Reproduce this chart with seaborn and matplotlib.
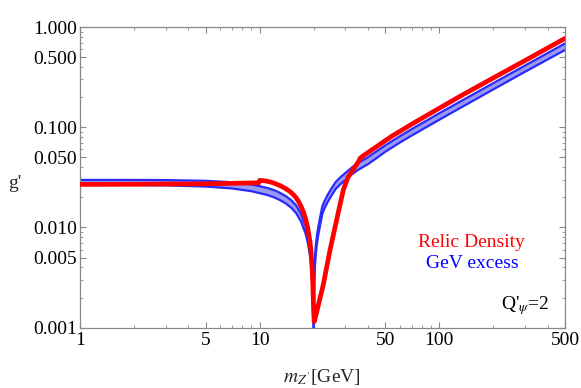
import matplotlib
matplotlib.use("Agg")
import matplotlib.pyplot as plt
import matplotlib.ticker as mticker
import seaborn as sns

# GeV excess band, branch below the resonance (m_Z' in GeV, g')
mass_below = [1, 2, 3, 5, 7, 9, 10, 11, 12, 13, 14, 15, 16, 17, 18, 18.5, 19, 19.5, 19.8, 19.95, 20.0]
excess_upper_below = [0.0298, 0.0298, 0.0297, 0.0292, 0.0283, 0.0268, 0.0258, 0.0248, 0.0236, 0.0221,
                      0.0205, 0.0187, 0.0165, 0.0136, 0.0103, 0.0084, 0.0064, 0.0045, 0.0028, 0.0016,
                      0.0005]
excess_lower_below = [0.0266, 0.0265, 0.0263, 0.0256, 0.0245, 0.0230, 0.0220, 0.0211, 0.0200, 0.0187,
                      0.0173, 0.0157, 0.0138, 0.0114, 0.0087, 0.0071, 0.0054, 0.0038, 0.0024, 0.0014,
                      0.0005]

# GeV excess band, branch above the resonance
mass_above = [20.0, 20.05, 20.15, 20.3, 20.5, 20.8, 21.2, 21.7, 22.3, 23, 24, 25, 26.5, 28, 30, 32.5,
              35, 40, 45, 50, 60, 70, 100, 150, 200, 300, 500]
excess_upper_above = [0.0005, 0.0020, 0.0035, 0.0050, 0.0065, 0.0082, 0.0102, 0.0127, 0.0162, 0.0185,
                      0.0215, 0.0243, 0.0285, 0.0315, 0.0350, 0.0395, 0.0435, 0.0502, 0.0580, 0.066,
                      0.081, 0.0955, 0.138, 0.207, 0.276, 0.413, 0.685]
excess_lower_above = [0.0005, 0.0016, 0.0029, 0.0041, 0.0053, 0.0068, 0.0085, 0.0106, 0.0136, 0.0157,
                      0.0182, 0.0206, 0.0243, 0.0268, 0.0298, 0.0338, 0.0372, 0.0428, 0.0496, 0.0570,
                      0.0700, 0.0825, 0.119, 0.179, 0.239, 0.358, 0.590]

# relic density curve
relic_mass = [1, 2, 4, 6, 8, 9.9, 10.0, 10.5, 11, 11.5, 12, 12.5, 13, 13.5, 14, 14.5, 15, 15.5, 16,
              16.5, 17, 17.5, 18, 18.5, 19, 19.3, 19.6, 19.8, 19.95, 20.1, 20.3, 22.6, 24.6, 26.8,
              29.2, 31.0, 32.5, 35.5, 36.2, 38, 40, 45, 50, 55, 60, 70, 85, 100, 130, 150, 200,
              300, 500]
relic_g = [0.0269, 0.0270, 0.0272, 0.0274, 0.0277, 0.0279, 0.0295, 0.0293, 0.0289, 0.0284, 0.0277,
           0.0269, 0.0261, 0.0252, 0.0243, 0.0233, 0.0222, 0.0210, 0.0196, 0.0180, 0.0162, 0.0143,
           0.0122, 0.0099, 0.0074, 0.0058, 0.0038, 0.0024, 0.0015, 0.00115, 0.00122, 0.0027,
           0.0059, 0.0119, 0.0237, 0.0316, 0.0361, 0.0455, 0.0490, 0.0525, 0.0558, 0.0645,
           0.0735, 0.0825, 0.0905, 0.107, 0.131, 0.155, 0.203, 0.234, 0.311, 0.463, 0.77]

x_ticks = [1, 5, 10, 50, 100, 500]
x_ticklabels = ["1", "5", "10", "50", "100", "500"]
y_ticks = [0.001, 0.005, 0.01, 0.05, 0.1, 0.5, 1.0]
y_ticklabels = ["0.001", "0.005", "0.010", "0.050", "0.100", "0.500", "1.000"]

sns.set_style("ticks")
plt.rcParams['font.family'] = ['Liberation Serif', 'DejaVu Serif']
plt.rcParams['mathtext.fontset'] = 'stix'

fig = plt.figure(figsize=(5.81, 3.88), dpi=100)
ax = fig.add_axes([80 / 581, 1 - 327.7 / 388, 485 / 581, 300.7 / 388])

blue = "#2a2aff"
band = "#9a9af2"
for m, up, lo in [(mass_below, excess_upper_below, excess_lower_below),
                  (mass_above, excess_upper_above, excess_lower_above)]:
    ax.fill_between(m, lo, up, color=band, lw=0, zorder=1)
    sns.lineplot(x=m, y=up, color=blue, lw=1.6, ax=ax, estimator=None, sort=False, zorder=2)
    sns.lineplot(x=m, y=lo, color=blue, lw=1.6, ax=ax, estimator=None, sort=False, zorder=2)

sns.lineplot(x=relic_mass, y=relic_g, color="#ff0000", lw=3.4, ax=ax, estimator=None,
             sort=False, zorder=3)

ax.set_xscale("log")
ax.set_yscale("log")
ax.set_xlim(1, 500)
ax.set_ylim(0.001, 1.0)

ax.xaxis.set_major_locator(mticker.FixedLocator(x_ticks))
ax.xaxis.set_major_formatter(mticker.FixedFormatter(x_ticklabels))
ax.xaxis.set_minor_locator(mticker.LogLocator(base=10, subs=range(2, 10)))
ax.xaxis.set_minor_formatter(mticker.NullFormatter())
ax.yaxis.set_major_locator(mticker.FixedLocator(y_ticks))
ax.yaxis.set_major_formatter(mticker.FixedFormatter(y_ticklabels))
ax.yaxis.set_minor_locator(mticker.LogLocator(base=10, subs=range(2, 10)))
ax.yaxis.set_minor_formatter(mticker.NullFormatter())

frame = "#888888"
for s in ax.spines.values():
    s.set_color(frame)
    s.set_linewidth(0.9)
ax.tick_params(which="both", direction="in", top=True, right=True, color=frame,
               labelsize=14, labelcolor="black")
ax.tick_params(which="major", length=4, width=0.8)
ax.tick_params(which="minor", length=2, width=0.6)
ax.tick_params(axis="x", pad=3)
ax.tick_params(axis="y", pad=2)

ax.set_xlabel("$m_{Z'}$[GeV]", fontsize=14)
ax.xaxis.set_label_coords(0.499, -0.13)
ax.set_ylabel("g'", fontsize=14, rotation=0, ha="center", va="center")
ax.yaxis.set_label_coords(-0.134, 0.481)

ax.text(0.808, 0.283, "Relic Density", color="#ff0000", fontsize=14, ha="center", va="center",
        transform=ax.transAxes)
ax.text(0.808, 0.214, "GeV excess", color="#0000ff", fontsize=14, ha="center", va="center",
        transform=ax.transAxes)
ax.text(0.969, 0.075, "Q'$_{\\psi}$=2", color="black", fontsize=14, ha="right", va="center",
        transform=ax.transAxes)

fig.savefig("out.png", dpi=100)
